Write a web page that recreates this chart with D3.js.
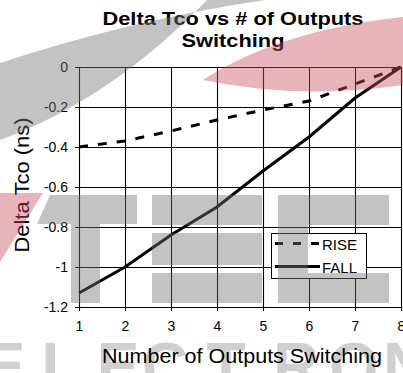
<!DOCTYPE html>
<html><head><meta charset="utf-8">
<script src="https://cdn.jsdelivr.net/npm/d3@7"></script>
<style>
html,body{margin:0;padding:0;background:#fff;overflow:hidden}
svg{display:block;font-family:"Liberation Sans",Arial,sans-serif}
</style></head>
<body>
<svg id="c" width="403" height="373"></svg>
<script>
const outputs = [1,2,3,4,5,6,7,8];
const rise = [-0.40,-0.37,-0.32,-0.265,-0.215,-0.17,-0.085,0];
const fall = [-1.13,-1.0,-0.84,-0.70,-0.52,-0.35,-0.155,0];
const yTicks = [0,-0.2,-0.4,-0.6,-0.8,-1.0,-1.2];
const yTickLabels = ["0","-0.2","-0.4","-0.6","-0.8","-1","-1.2"];
const xTicks = [1,2,3,4,5,6,7,8];
const seriesNames = ["RISE","FALL"];
const titleLines = ["Delta Tco vs # of Outputs","Switching"];
const xTitle = "Number of Outputs Switching";
const yTitle = "Delta Tco (ns)";
const watermarkLetters = ["E","L","E","C","T","R","O","N"];

const svg = d3.select("#c");
const L = 79, R = 401, T = 67, B = 307;
const x = d3.scaleLinear().domain([1,8]).range([L,R]);
const y = d3.scaleLinear().domain([-1.2,0]).range([B,T]);

// watermark letters (bottom)
const letterX = [4,61,118,165,226,296,354,406];
svg.append("g").selectAll("text").data(watermarkLetters).join("text")
  .attr("x",(d,i)=>letterX[i]).attr("y",388).attr("text-anchor","middle")
  .attr("font-size",64).attr("font-weight","bold").attr("fill","#d0d0d0").text(d=>d);

// grid
const grid = svg.append("g");
grid.selectAll("line.h").data(yTicks).join("line")
  .attr("x1",L-4).attr("x2",R).attr("y1",d=>Math.round(y(d))+0.5).attr("y2",d=>Math.round(y(d))+0.5)
  .attr("stroke","#000").attr("stroke-width",1.1);
grid.selectAll("line.v").data(xTicks).join("line")
  .attr("y1",T).attr("y2",B+4).attr("x1",d=>Math.round(x(d))+0.5).attr("x2",d=>Math.round(x(d))+0.5)
  .attr("stroke","#000").attr("stroke-width",1.1);

// axes labels via d3 axes
const yAxis = svg.append("g").attr("transform",`translate(${L},0)`)
  .call(d3.axisLeft(y).tickValues(yTicks).tickFormat((d,i)=>yTickLabels[i]).tickSize(4).tickPadding(7));
yAxis.select(".domain").remove();
yAxis.selectAll(".tick line").remove();
yAxis.selectAll("text").attr("font-size",14).attr("font-family","Liberation Sans, Arial, sans-serif").attr("fill","#000");

const xAxis = svg.append("g").attr("transform",`translate(0,${B})`)
  .call(d3.axisBottom(x).tickValues(xTicks).tickFormat(d3.format("d")).tickSize(4).tickPadding(10));
xAxis.select(".domain").remove();
xAxis.selectAll(".tick line").remove();
xAxis.selectAll("text").attr("font-size",14).attr("font-family","Liberation Sans, Arial, sans-serif").attr("fill","#000");

// series
const line = d3.line().x((d,i)=>x(outputs[i])).y(d=>y(d));
svg.append("path").attr("d",line(rise)).attr("fill","none").attr("stroke","#000")
  .attr("stroke-width",3).attr("stroke-dasharray","9,10");
svg.append("path").attr("d",line(fall)).attr("fill","none").attr("stroke","#000")
  .attr("stroke-width",3);

// legend
const lg = svg.append("g");
lg.append("rect").attr("x",271.5).attr("y",233.5).attr("width",95).attr("height",45)
  .attr("fill","#fff").attr("stroke","#000").attr("stroke-width",1);
const lgY = [243.5,266.5];
seriesNames.forEach((n,i)=>{
  lg.append("line").attr("x1",275).attr("x2",320).attr("y1",lgY[i]).attr("y2",lgY[i])
    .attr("stroke","#000").attr("stroke-width",3).attr("stroke-dasharray",i===0?"8,10":null);
  lg.append("text").attr("x",322).attr("y",lgY[i]+6).attr("font-size",15).text(n);
});

// titles
const titleLen = [261,103];
svg.append("g").selectAll("text").data(titleLines).join("text")
  .attr("x",233).attr("y",(d,i)=>25+i*21.5).attr("text-anchor","middle")
  .attr("font-size",19).attr("font-weight","bold")
  .attr("textLength",(d,i)=>titleLen[i]).attr("lengthAdjust","spacingAndGlyphs").text(d=>d);
svg.append("text").attr("x",242).attr("y",363).attr("text-anchor","middle")
  .attr("font-size",20).attr("textLength",280).attr("lengthAdjust","spacingAndGlyphs").text(xTitle);
svg.append("text").attr("transform","translate(29,185) rotate(-90)").attr("text-anchor","middle")
  .attr("font-size",20).attr("textLength",135).attr("lengthAdjust","spacingAndGlyphs").text(yTitle);

// watermark overlay
const wm = svg.append("g");
const gray = "rgb(116,116,116)", pink = "rgb(201,81,99)", op = 0.43;
wm.append("path").attr("d","M0,63 Q130,20 265,0 L207,0 Q110,100 0,140 Z").attr("fill",gray).attr("opacity",op);
wm.append("path").attr("d","M203,80 Q280,30 403,17 L403,85 Q300,100 203,80 Z").attr("fill",pink).attr("opacity",op);
wm.append("path").attr("d","M0,193 L43,193 L0,262 Z").attr("fill",pink).attr("opacity",op);
wm.append("path").attr("d","M50,195 L137,195 L137,224 L100,224 L100,303 L71,303 L71,224 L37,224 Z").attr("fill",gray).attr("opacity",op);
const blocks = [[152,195,110,30],[152,233,110,32],[152,273,110,30],[278,195,111,30],[278,225,30,48],[278,273,111,30]];
wm.selectAll("rect").data(blocks).join("rect")
  .attr("x",d=>d[0]).attr("y",d=>d[1]).attr("width",d=>d[2]).attr("height",d=>d[3])
  .attr("fill",gray).attr("opacity",op);
</script>
</body></html>
